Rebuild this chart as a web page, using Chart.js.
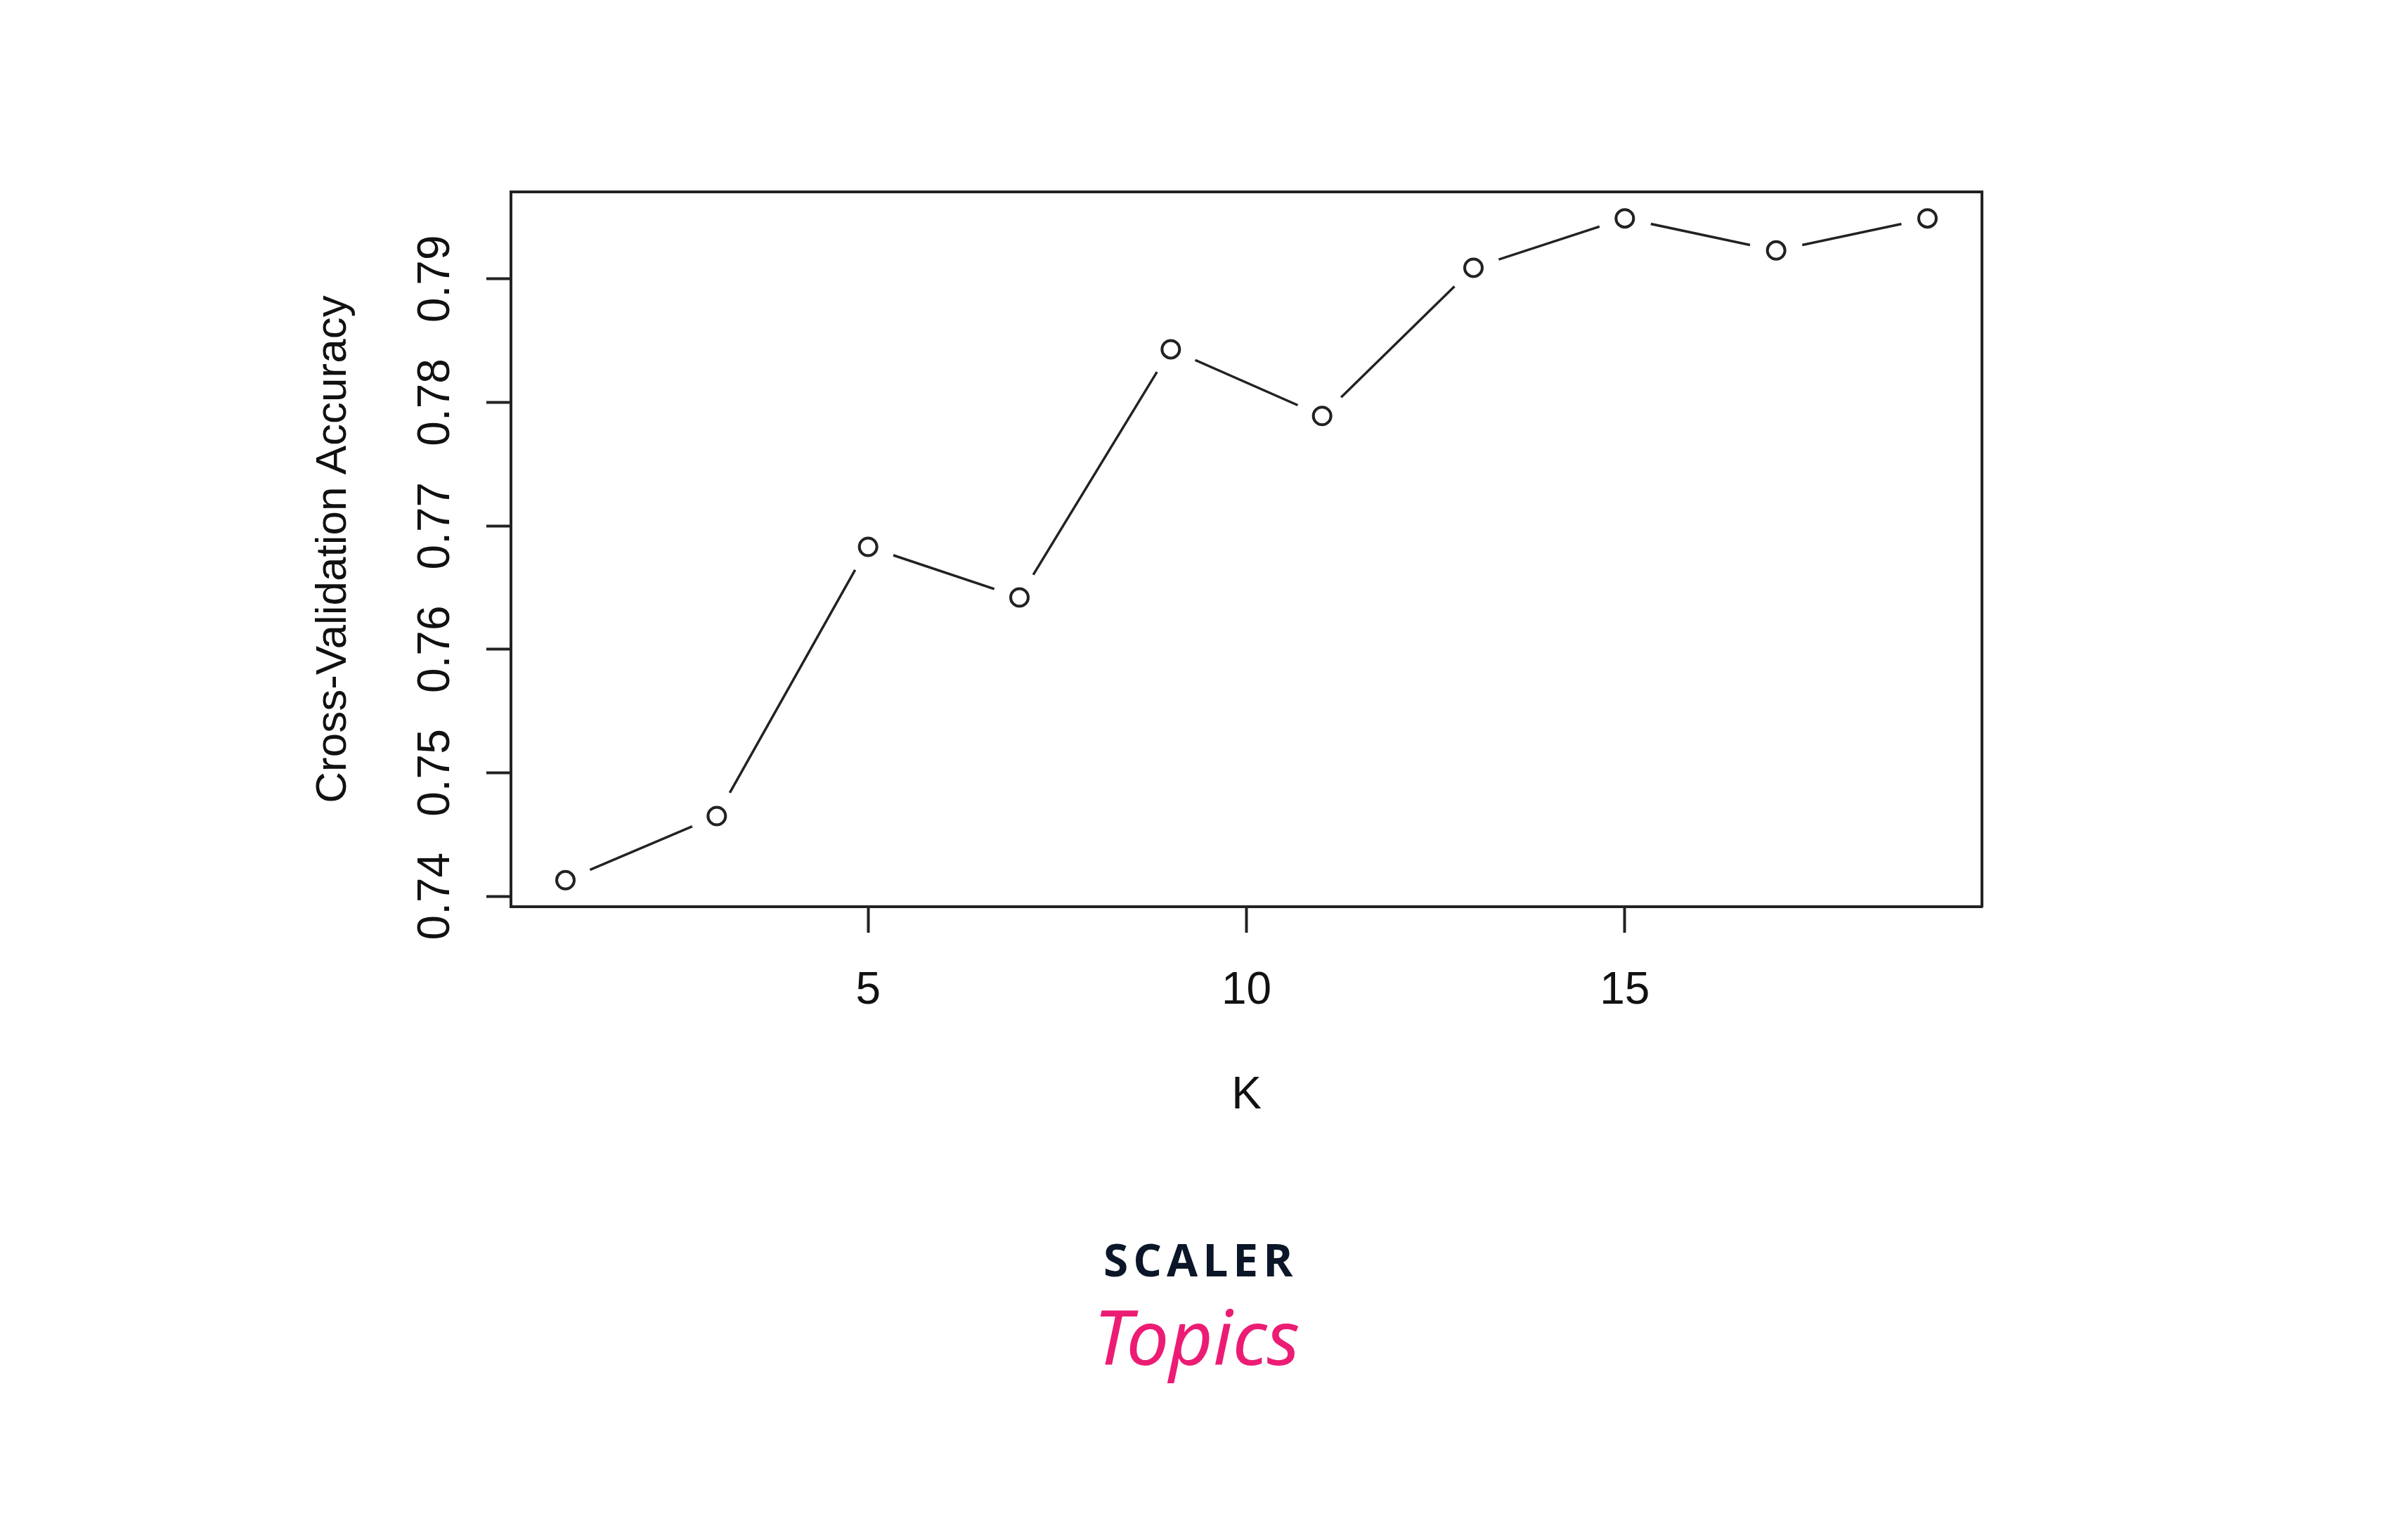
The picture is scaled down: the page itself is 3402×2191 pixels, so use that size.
<!DOCTYPE html>
<html>
<head>
<meta charset="utf-8">
<title>Cross-Validation Accuracy vs K</title>
<script src="https://cdn.jsdelivr.net/npm/chart.js@4.4.1/dist/chart.umd.min.js"></script>
<style>
  html, body { margin: 0; padding: 0; background: #fff; }
  #wrap { width: 3402px; height: 2191px; position: relative; }
</style>
</head>
<body>
<div id="wrap"><canvas id="accChart"></canvas></div>
<script>
// K tried and the cross-validation accuracy
const kValues = [1, 3, 5, 7, 9, 11, 13, 15, 17, 19];
const accuracy = [0.7413, 0.7465, 0.7683, 0.7642, 0.7843, 0.7789, 0.7909, 0.7949, 0.7923, 0.7949];

const xTicks = [5, 10, 15];
const xTickLabels = ["5", "10", "15"];
const yTicks = [0.74, 0.75, 0.76, 0.77, 0.78, 0.79];
const yTickLabels = ["0.74", "0.75", "0.76", "0.77", "0.78", "0.79"];

const xTitle = "K";
const yTitle = "Cross-Validation Accuracy";

const FONT = '"Liberation Sans", Arial, sans-serif';
const ink = "#222";
const textInk = "#111";
const tickFont = { family: FONT, size: 64 };
const titleFont = { family: FONT, size: 62 };

// R style axis ranges: data range plus 4% each side
const pad = (lo, hi) => [lo - (hi - lo) * 0.04, hi + (hi - lo) * 0.04];
const [xMin, xMax] = pad(Math.min(...kValues), Math.max(...kValues));
const [yMin, yMax] = pad(Math.min(...accuracy), Math.max(...accuracy));

const points = kValues.map((k, i) => ({ x: k, y: accuracy[i] }));

// rotated y labels are centred by chart.js using the unrotated width
const m = document.createElement("canvas").getContext("2d");
m.font = `64px ${FONT}`;
const yLabelPad = 71 - m.measureText("0.74").width / 2;

// little logo under the plot
const logo = {
    id: "logo",
    afterDraw(chart) {
        const c = chart.ctx;
        c.save();
        c.textAlign = "left";
        c.textBaseline = "alphabetic";
        c.fillStyle = "#0b1628";
        c.font = 'bold 64px "Open Sans", sans-serif';
        c.letterSpacing = "7px";
        c.fillText("SCALER", 1570, 1816);
        c.letterSpacing = "0px";
        c.fillStyle = "#ec1c74";
        c.font = 'italic 108px "Noto Sans", sans-serif';
        c.fillText("Topics", 1556, 1942);
        c.restore();
    },
};

const edge = (position) => ({
    type: "linear",
    position: position,
    min: position === "top" ? xMin : yMin,
    max: position === "top" ? xMax : yMax,
    ticks: { display: false },
    grid: { display: false },
    border: { display: true, color: ink, width: 4, z: 1 },
    afterFit: (s) => {
        if (position === "top") s.height = 0;
        else s.width = 0;
    },
});

new Chart(document.getElementById("accChart"), {
    type: "line",
    data: {
        datasets: [
            {
                label: "points",
                data: points,
                showLine: false,
                pointRadius: 12.5,
                pointBorderWidth: 4,
                pointBorderColor: ink,
                pointBackgroundColor: "#fff",
                order: 0,
            },
            {
                // white discs so the line stops short of each point (type = "b")
                label: "gaps",
                data: points,
                showLine: false,
                pointRadius: 38,
                pointBorderWidth: 0,
                pointBorderColor: "#fff",
                pointBackgroundColor: "#fff",
                order: 1,
            },
            {
                label: "line",
                data: points,
                borderColor: ink,
                borderWidth: 3.5,
                pointRadius: 0,
                tension: 0,
                fill: false,
                order: 2,
            },
        ],
    },
    options: {
        responsive: true,
        maintainAspectRatio: false,
        animation: false,
        events: [],
        layout: { padding: { top: 273, right: 582, bottom: 0, left: 0 } },
        plugins: {
            legend: { display: false },
            tooltip: { enabled: false },
        },
        scales: {
            x: {
                type: "linear",
                position: "bottom",
                min: xMin,
                max: xMax,
                afterBuildTicks: (s) => {
                    s.ticks = xTicks.map((v) => ({ value: v }));
                },
                afterFit: (s) => {
                    s.height = 901;
                },
                ticks: {
                    autoSkip: false,
                    maxRotation: 0,
                    padding: 45,
                    font: tickFont,
                    color: textInk,
                    callback: (v, i) => xTickLabels[i],
                },
                grid: {
                    display: true,
                    drawOnChartArea: false,
                    drawTicks: true,
                    tickLength: 37,
                    tickWidth: 4,
                    tickColor: ink,
                },
                border: { display: true, color: ink, width: 4, z: 1 },
                title: {
                    display: true,
                    text: xTitle,
                    font: tickFont,
                    color: textInk,
                    padding: { top: 0, bottom: 593 },
                },
            },
            x2: edge("top"),
            y: {
                type: "linear",
                position: "left",
                min: yMin,
                max: yMax,
                afterBuildTicks: (s) => {
                    s.ticks = yTicks.map((v) => ({ value: v }));
                },
                afterFit: (s) => {
                    s.width = 727;
                },
                ticks: {
                    autoSkip: false,
                    minRotation: 90,
                    maxRotation: 90,
                    crossAlign: "center",
                    padding: yLabelPad,
                    font: tickFont,
                    color: textInk,
                    callback: (v, i) => yTickLabels[i],
                },
                grid: {
                    display: true,
                    drawOnChartArea: false,
                    drawTicks: true,
                    tickLength: 35,
                    tickWidth: 4,
                    tickColor: ink,
                },
                border: { display: true, color: ink, width: 4, z: 1 },
                title: {
                    display: true,
                    text: yTitle,
                    font: titleFont,
                    color: textInk,
                    padding: { top: 438, bottom: 0 },
                },
            },
            y2: edge("right"),
        },
    },
    plugins: [logo],
});
</script>
</body>
</html>
